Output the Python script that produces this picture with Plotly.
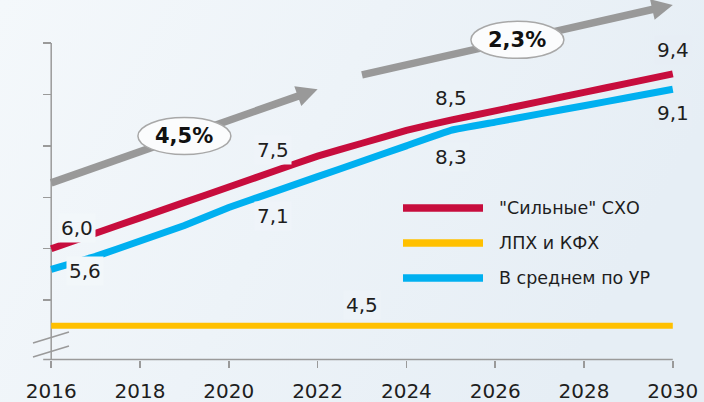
import plotly.graph_objects as go
import math
import urllib.parse

# ---------------- data ----------------
years = [2016, 2017, 2018, 2019, 2020, 2021, 2022, 2023, 2024, 2025, 2026, 2027, 2028, 2029, 2030]
strong = [6.0, 6.3, 6.6, 6.9, 7.2, 7.5, 7.8, 8.05, 8.3, 8.5, 8.68, 8.86, 9.04, 9.22, 9.4]
small = [4.5, 4.5, 4.5, 4.5, 4.5, 4.5, 4.5, 4.5, 4.5, 4.5, 4.5, 4.5, 4.5, 4.5, 4.5]
average = [5.6, 5.85, 6.15, 6.45, 6.8, 7.1, 7.4, 7.7, 8.0, 8.3, 8.46, 8.62, 8.78, 8.94, 9.1]
series_names = ['"Сильные" СХО', 'ЛПХ и КФХ', 'В среднем по УР']
series_colors = ['#C70D3D', '#FFC000', '#00B0F0']
x_ticks = [2016, 2018, 2020, 2022, 2024, 2026, 2028, 2030]
y_ticks = [5, 6, 7, 8, 9, 10]
growth_labels = ['4,5%', '2,3%']
growth_start = [(2016.0, 7.28), (2023.0, 9.38)]
growth_end = [(2022.0, 9.10), (2030.0, 10.74)]
growth_label_x = [2019.0, 2026.5]

# ---------------- geometry ----------------
W, H = 704, 402
X_MIN, X_MAX = 2015.5, 2030.5
Y_MIN, Y_MAX = 3.70, 10.835
Y_AXIS_BOTTOM = 3.845
ML, MR, MT, MB = 29, 9, 0, 35
PW = W - ML - MR
PH = H - MT - MB

def px(x):
    return ML + (x - X_MIN) / (X_MAX - X_MIN) * PW

def py(y):
    return MT + (Y_MAX - y) / (Y_MAX - Y_MIN) * PH

def dx(p):
    return X_MIN + (p - ML) / PW * (X_MAX - X_MIN)

def dy(p):
    return Y_MAX - (p - MT) / PH * (Y_MAX - Y_MIN)

def paper_x(p):
    return (p - ML) / PW

def paper_y(p):
    return (H - MB - p) / PH

def bg_at(p):
    t = max(0.0, min(1.0, p / W))
    a = (0xF4, 0xF8, 0xFB)
    b = (0xE6, 0xEE, 0xF5)
    c = [round(a[i] + (b[i] - a[i]) * t) for i in range(3)]
    return 'rgb(%d,%d,%d)' % tuple(c)

FONT = 'DejaVu Sans'
TXT = '#1E1E1E'
AX = '#9A9A9A'

fig = go.Figure()
for vals, name, col, w in zip([strong, small, average], series_names, series_colors, [7, 6, 7]):
    fig.add_trace(go.Scatter(x=years, y=vals, mode='lines', name=name,
                             line=dict(color=col, width=w, shape='spline', smoothing=0.3),
                             showlegend=False, hoverinfo='skip'))

shapes = []
annotations = []

# axes lines
shapes.append(dict(type='line', xref='x', yref='y', x0=2016, x1=2016, y0=Y_AXIS_BOTTOM, y1=10,
                   line=dict(color=AX, width=1.5), layer='below'))
shapes.append(dict(type='line', xref='x', yref='y', x0=dx(px(2016) - 8), x1=2030,
                   y0=Y_AXIS_BOTTOM, y1=Y_AXIS_BOTTOM, line=dict(color=AX, width=1.5), layer='below'))
# axis break marks
for (a, b) in [((33, 343), (69, 332)), ((33, 357), (69, 346))]:
    shapes.append(dict(type='line', xref='x', yref='y', x0=dx(a[0]), y0=dy(a[1]), x1=dx(b[0]), y1=dy(b[1]),
                       line=dict(color=AX, width=1.5)))

# growth arrows
for (s, e, lab, lx) in zip(growth_start, growth_end, growth_labels, growth_label_x):
    sx, sy = px(s[0]), py(s[1])
    ex, ey = px(e[0]), py(e[1])
    L = math.hypot(ex - sx, ey - sy)
    ux, uy = (ex - sx) / L, (ey - sy) / L
    nx, ny = -uy, ux
    hl, hw = 21, 10.5
    bx, by = ex - hl * ux, ey - hl * uy
    shapes.append(dict(type='line', xref='x', yref='y', x0=s[0], y0=s[1], x1=dx(bx + 1 * ux), y1=dy(by + 1 * uy),
                       line=dict(color='#999999', width=7.5)))
    path = 'M%f,%f L%f,%f L%f,%f Z' % (dx(ex), dy(ey), dx(bx + hw * nx), dy(by + hw * ny),
                                       dx(bx - hw * nx), dy(by - hw * ny))
    shapes.append(dict(type='path', xref='x', yref='y', path=path, fillcolor='#999999',
                       line=dict(width=0)))
    t = (lx - s[0]) / (e[0] - s[0])
    cy = s[1] + t * (e[1] - s[1])
    shapes.append(dict(type='circle', xref='x', yref='y', xsizemode='pixel', ysizemode='pixel',
                       xanchor=lx, yanchor=cy, x0=-46.5, x1=46.5, y0=-18.5, y1=18.5,
                       fillcolor='#FBFCFD', line=dict(color='#A8A8A8', width=1.5)))
    annotations.append(dict(x=lx, y=cy, xref='x', yref='y', text='<b>%s</b>' % lab, showarrow=False,
                            font=dict(family=FONT, size=21, color='#111111'), yshift=0))

def fmt(v):
    return ('%.1f' % v).replace('.', ',')

# data labels: (series values, index, xshift, yshift)
label_spec = [
    (strong, 0, 26, 21),
    (average, 0, 34, -2),
    (strong, 5, 0, 22),
    (average, 5, 0, -24),
    (strong, 9, 0, 22),
    (average, 9, 0, -27),
    (strong, 14, 0, 24),
    (average, 14, 0, -24),
    (small, 7, 0, 21),
]
for vals, i, xs, ys in label_spec:
    cx = px(years[i]) + xs
    annotations.append(dict(x=years[i], y=vals[i], xref='x', yref='y', text=fmt(vals[i]),
                            showarrow=False, xshift=xs, yshift=ys, bgcolor=bg_at(cx), borderpad=2,
                            font=dict(family=FONT, size=20, color=TXT)))

# legend (custom, long swatches)
legend_rows_px = [208, 243, 278]
for name, col, ypx in zip(series_names, series_colors, legend_rows_px):
    shapes.append(dict(type='line', xref='paper', yref='paper', x0=paper_x(403), x1=paper_x(483),
                       y0=paper_y(ypx), y1=paper_y(ypx), line=dict(color=col, width=7.5)))
    annotations.append(dict(x=paper_x(497), y=paper_y(ypx), xref='paper', yref='paper', text=name,
                            showarrow=False, xanchor='left', yanchor='middle',
                            font=dict(family=FONT, size=17.5, color=TXT)))

svg = ("<svg xmlns='http://www.w3.org/2000/svg' width='704' height='402'>"
       "<defs><linearGradient id='g' x1='0' y1='0' x2='1' y2='0.3'>"
       "<stop offset='0' stop-color='#F4F8FB'/><stop offset='1' stop-color='#E6EEF5'/>"
       "</linearGradient></defs><rect width='704' height='402' fill='url(#g)'/></svg>")
src = 'data:image/svg+xml;charset=utf-8,' + urllib.parse.quote(svg)

fig.update_layout(
    width=W, height=H,
    margin=dict(l=ML, r=MR, t=MT, b=MB, pad=0, autoexpand=False),
    paper_bgcolor='#EEF3F7', plot_bgcolor='rgba(0,0,0,0)',
    images=[dict(source=src, xref='paper', yref='paper', x=paper_x(0), y=paper_y(0),
                 sizex=W / PW, sizey=H / PH, xanchor='left', yanchor='top',
                 sizing='stretch', layer='below')],
    xaxis=dict(range=[X_MIN, X_MAX], tickvals=x_ticks, ticktext=[str(v) for v in x_ticks],
               ticks='outside', ticklen=7, tickwidth=1.5, tickcolor=AX, automargin=False,
               ticklabelstandoff=6,
               showgrid=False, zeroline=False, showline=False,
               anchor='free', position=(Y_AXIS_BOTTOM - Y_MIN) / (Y_MAX - Y_MIN),
               tickfont=dict(family=FONT, size=20, color=TXT)),
    yaxis=dict(range=[Y_MIN, Y_MAX], tickvals=y_ticks, ticks='outside', ticklen=8, tickwidth=1.5,
               tickcolor=AX, showticklabels=False, showgrid=False, zeroline=False, showline=False,
               automargin=False,
               anchor='free', position=(2016 - X_MIN) / (X_MAX - X_MIN)),
    shapes=shapes, annotations=annotations, showlegend=False,
)

fig.write_html('out.html', config={'displayModeBar': False, 'staticPlot': True},
               post_script="document.body.style.margin='0';document.body.style.overflow='hidden';")
